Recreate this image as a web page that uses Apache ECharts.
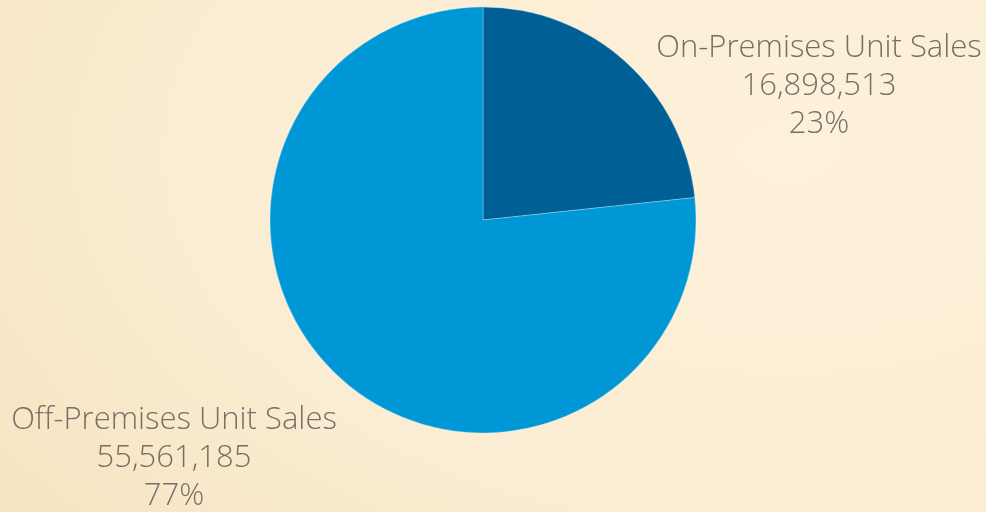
<!DOCTYPE html>
<html>
<head>
<meta charset="utf-8">
<script src="https://cdn.jsdelivr.net/npm/echarts@6/dist/echarts.min.js"></script>
<style>
html,body{margin:0;padding:0;width:986px;height:512px;overflow:hidden;}
body{background:radial-gradient(ellipse 120% 140% at 80% 30%, #fdf1da 0%, #fbedd3 50%, #f6e3c0 85%, #f2dcb3 100%);}
#chart{width:986px;height:512px;}
</style>
</head>
<body>
<div id="chart"></div>
<script>
const categories = ['On-Premises Unit Sales', 'Off-Premises Unit Sales'];
const values = [16898513, 55561185];
const colors = ['#005f95', '#0097d7'];

const labelPos = [
  {x: 819, y: 86},
  {x: 174, y: 458}
];

const chart = echarts.init(document.getElementById('chart'), null, {renderer: 'canvas'});
chart.setOption({
  backgroundColor: 'transparent',
  animation: false,
  series: [{
    type: 'pie',
    center: [483, 220],
    radius: 213,
    startAngle: 90,
    clockwise: true,
    percentPrecision: 0,
    data: categories.map((c, i) => ({name: c, value: values[i], itemStyle: {color: colors[i]}})),
    itemStyle: {borderColor: 'rgba(200,230,250,0.6)', borderWidth: 0.6},
    label: {
      show: true,
      position: 'outside',
      overflow: 'none',
      formatter: p => p.name + '\n' + p.value.toLocaleString('en-US') + '\n' + Math.round(p.percent) + '%',
      color: '#776f66',
      fontFamily: 'Open Sans',
      fontWeight: 300,
      fontSize: 31,
      lineHeight: 38,
      align: 'center'
    },
    labelLine: {show: false},
    labelLayout: p => ({x: labelPos[p.dataIndex].x, y: labelPos[p.dataIndex].y, align: 'center', verticalAlign: 'middle'}),
    emphasis: {disabled: true}
  }]
});
</script>
</body>
</html>
